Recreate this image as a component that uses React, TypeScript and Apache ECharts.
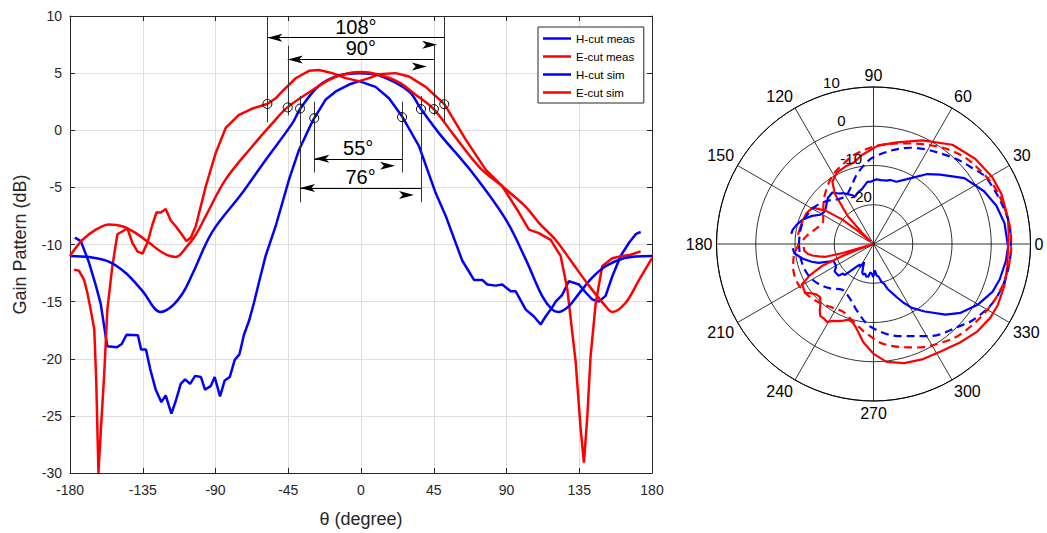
import React, { useEffect, useRef } from "react";
import * as echarts from "echarts";

const FONT = '"Liberation Sans", Arial, Helvetica, sans-serif';
const BLUE = "#0000ff";
const RED = "#ff0000";

const seriesNames = ["H-cut meas", "E-cut meas", "H-cut sim", "E-cut sim"];

// [theta (deg), gain (dB)]
const hCutMeas: number[][] = [
  [-177, -9.4], [-173.3, -9.7], [-168.2, -11.6], [-164, -13.6], [-161, -15.2], [-157, -18.9],
  [-151, -19.0], [-148, -18.7], [-145, -17.9], [-138, -17.95], [-136, -19.2], [-133, -19.2],
  [-130.4, -20.9], [-127, -22.7], [-123.5, -23.8], [-120.8, -23.2], [-117.3, -24.8], [-114.6, -23.7],
  [-111.5, -22.2], [-108.8, -21.8], [-105.7, -22.2], [-102.6, -21.5], [-99, -21.6], [-96.5, -22.7],
  [-93, -22.4], [-90.5, -21.6], [-87.2, -23.3], [-84.3, -21.9], [-81.2, -21.6], [-78.1, -20.1],
  [-75.2, -19.6], [-72.4, -17.9], [-69.3, -16.7], [-66.2, -15.1], [-63.1, -13.3], [-59, -11.0],
  [-52.8, -8.4], [-44.5, -4.3], [-38.3, -1.7], [-30, 0.8], [-21.8, 2.7], [-15.6, 3.4], [-7.4, 4.0],
  [-1.2, 4.3], [9, 3.8], [17.3, 2.8], [25.5, 1.2], [35.9, -1.4], [46.2, -5.5], [52.4, -7.5],
  [62.6, -11.4], [69.9, -13.1], [75, -13.1], [78.1, -13.5], [83.3, -13.6], [87.4, -13.5],
  [92.6, -14.1], [95.7, -14.1], [101.9, -15.7], [107, -16.3], [111.1, -17.0], [114.2, -16.3],
  [118.3, -15.5], [120.4, -15.0], [124.5, -14.4], [128.6, -13.2], [134.8, -13.5], [139, -14.2],
  [143, -14.8], [147.2, -15.0], [151.3, -14.5], [155.4, -12.8], [160.6, -11.0], [165.8, -9.85],
  [169.9, -9.1], [173, -8.9],
];

const eCutMeas: number[][] = [
  [-177.5, -12.2], [-174.4, -12.3], [-171.3, -13.1], [-169.3, -14.2], [-167.2, -15.7], [-165, -17.4],
  [-163.8, -21.8], [-162.4, -30], [-160.9, -26.2], [-158.9, -21.5], [-156.9, -15.7], [-153.8, -11.9],
  [-150.7, -9.1], [-144.5, -8.6], [-141.4, -9.85], [-138.3, -10.6], [-135.2, -10.8], [-132.1, -9.85],
  [-129, -8.25], [-126.5, -7.2], [-123.9, -7.2], [-120.8, -6.9], [-117.7, -7.9], [-114.6, -8.4],
  [-111.5, -9.0], [-108, -9.7], [-105.3, -9.4], [-102.2, -8.4], [-96, -4.9], [-89.9, -2.0],
  [-83.7, 0.2], [-75.5, 1.35], [-67.2, 1.9], [-58, 2.3], [-52.8, 2.8], [-48.7, 3.4], [-40.4, 4.55],
  [-32.2, 5.2], [-26, 5.28], [-17.7, 5.0], [-9.5, 4.56], [-1.2, 4.3], [5, 4.56], [11, 4.9],
  [21.4, 5.0], [29.7, 4.7], [40, 3.8], [51.5, 2.3], [64.7, -0.8], [77.1, -3.45], [87.4, -4.9],
  [97.7, -7.2], [103.9, -8.7], [110, -9.0], [117.3, -9.6], [123.5, -11.0], [127.6, -13.9],
  [132.8, -20.3], [135.9, -26.2], [137.9, -29.1], [140, -25], [142, -19.8], [145.2, -15.1],
  [149.2, -11.9], [155.4, -11.2], [161.6, -11.0], [166.8, -10.9], [173, -10.6],
];

const hCutSim: number[][] = [
  [-180, -11.0], [-168, -11.1], [-156, -11.5], [-145.5, -12.5], [-135, -14.1], [-124, -15.9],
  [-117, -15.4], [-110, -14.2], [-104, -12.5], [-92, -8.9], [-73.5, -5.5], [-59, -2.6],
  [-42.5, 0.6], [-37.5, 1.9], [-26, 3.9], [-13.6, 4.8], [-1, 5.0], [11, 4.8], [29.7, 3.4],
  [36.9, 1.9], [48.2, -0.25], [68.8, -3.7], [89.5, -7.8], [101.9, -11.3], [112, -14.5],
  [118.3, -15.7], [122.4, -15.9], [128.6, -15.4], [134.8, -14.3], [143, -12.9], [151.3, -11.9],
  [161.6, -11.25], [170, -11.05], [180, -11.0],
];

const eCutSim: number[][] = [
  [-180, -11.0], [-172.3, -9.6], [-164, -8.7], [-155.8, -8.25], [-147.6, -8.4], [-139.3, -9.0],
  [-131, -9.85], [-122.9, -10.7], [-114.6, -11.1], [-108.4, -10.3], [-102, -9.1], [-96, -7.5],
  [-83.7, -4.3], [-67.2, -1.4], [-54.9, 0.6], [-45.5, 2.0], [-30.1, 3.5], [-17.7, 4.55],
  [-5.4, 5.05], [0, 5.1], [10, 4.9], [23.5, 4.2], [33, 3.2], [44.7, 1.9], [56.5, -0.25],
  [73, -3.2], [87.4, -4.9], [101.9, -6.7], [110, -8.1], [120.4, -9.6], [130.7, -11.6],
  [141, -13.6], [151.3, -15.4], [155.4, -15.9], [163.7, -15.1], [172, -13.1], [180, -11.2],
];

// beamwidth annotations
const beamLabels = ["108°", "90°", "76°", "55°"];
const beamLeft = [-57.9, -45.3, -37.7, -28.9];
const beamRight = [51.5, 45.1, 37.1, 25.4];
const levelLeft = [2.3, 2.0, 1.9, 1.06];
const levelRight = [2.28, 1.85, 1.85, 1.15];
const arrowLevel = [8.1, 6.2, -5.05, -2.5];
const guideTop = [10, 7.4, 3.0, 2.5];
const guideBottom = [0.7, 1.3, -6.3, -3.7];

// polar radius tick labels
const radiusTicks = [-20, -10, 0, 10];
const radiusLabelAngle = 104.6;

export default function App() {
  const ref = useRef<HTMLDivElement>(null);

  useEffect(() => {
    if (!ref.current) return;
    const chart = echarts.init(ref.current, null, { renderer: "svg" });
    const all = [hCutMeas, eCutMeas, hCutSim, eCutSim];
    const colors = [BLUE, RED, BLUE, RED];
    const isSim = [false, false, true, true];

    const cartSeries = all.map((d, i) => ({
      name: seriesNames[i],
      type: "line",
      xAxisIndex: 0,
      yAxisIndex: 0,
      data: d,
      symbol: "none",
      showSymbol: false,
      smooth: isSim[i] ? 0.35 : false,
      lineStyle: { color: colors[i], width: 2.5 },
      itemStyle: { color: colors[i] },
      z: 3,
    }));

    const polarSeries = all.map((d, i) => ({
      name: seriesNames[i],
      type: "line",
      coordinateSystem: "polar",
      polarIndex: 0,
      data: d.map(([t, g]) => [g, t]),
      symbol: "none",
      showSymbol: false,
      smooth: isSim[i] ? 0.35 : false,
      clip: false,
      lineStyle: { color: colors[i], width: 2.2, type: isSim[i] ? [8, 5] : "solid" },
      itemStyle: { color: colors[i] },
      z: 3,
    }));

    const guideSeries = {
      type: "line",
      xAxisIndex: 0,
      yAxisIndex: 0,
      data: [],
      silent: true,
      markLine: {
        silent: true,
        animation: false,
        symbol: "none",
        label: { show: false },
        lineStyle: { color: "#333", width: 1, type: "solid" },
        emphasis: { disabled: true },
        data: beamLabels.flatMap((_, i) => [
          [{ coord: [beamLeft[i], guideTop[i]] }, { coord: [beamLeft[i], guideBottom[i]] }],
          [{ coord: [beamRight[i], guideTop[i]] }, { coord: [beamRight[i], guideBottom[i]] }],
        ]),
      },
      markPoint: {
        silent: true,
        animation: false,
        symbol: "circle",
        symbolSize: 9,
        label: { show: false },
        itemStyle: { color: "rgba(0,0,0,0)", borderColor: "#000", borderWidth: 1 },
        data: beamLabels.flatMap((_, i) => [
          { coord: [beamLeft[i], levelLeft[i]] },
          { coord: [beamRight[i], levelRight[i]] },
        ]),
      },
    };

    const arrowSeries = {
      type: "line",
      xAxisIndex: 0,
      yAxisIndex: 0,
      data: [],
      silent: true,
      markLine: {
        silent: true,
        animation: false,
        symbol: ["arrow", "arrow"],
        symbolSize: [6, 15],
        symbolOffset: [0, 7],
        lineStyle: { color: "#000", width: 1, type: "solid" },
        itemStyle: { color: "#000" },
        emphasis: { disabled: true },
        label: {
          show: true,
          position: "insideMiddleTop",
          formatter: "{b}",
          color: "#000",
          fontSize: 20,
          fontFamily: FONT,
          distance: 1,
        },
        data: beamLabels.map((lab, i) => [
          { name: lab, coord: [beamLeft[i], arrowLevel[i]] },
          { coord: [beamRight[i], arrowLevel[i]] },
        ]),
      },
    };

    const axisColor = "#262626";
    const frameAxis = {
      axisLine: { show: true, onZero: false, lineStyle: { color: axisColor, width: 1 } },
      axisTick: { show: true, inside: true, length: 5, lineStyle: { color: axisColor } },
    };

    const option: any = {
      animation: false,
      textStyle: { fontFamily: FONT },
      legend: {
        data: seriesNames,
        left: 538,
        top: 27,
        orient: "vertical",
        padding: [5, 9, 4, 5],
        itemGap: 5,
        itemWidth: 28,
        itemHeight: 2.5,
        icon: "rect",
        backgroundColor: "#fff",
        borderColor: axisColor,
        borderWidth: 1,
        borderRadius: 0,
        selectedMode: false,
        textStyle: { fontSize: 11.5, color: "#000", fontFamily: FONT, lineHeight: 13 },
      },
      grid: [{ left: 70, top: 16, width: 582, height: 458 }],
      xAxis: [
        {
          type: "value", gridIndex: 0, min: -180, max: 180, interval: 45, position: "bottom",
          ...frameAxis,
          axisLabel: { fontSize: 14, color: axisColor, fontFamily: FONT, margin: 10 },
          splitLine: { show: true, lineStyle: { color: "#dedede", width: 1 } },
          name: "θ (degree)", nameLocation: "middle", nameGap: 37,
          nameTextStyle: { fontSize: 18, color: axisColor, fontFamily: FONT },
        },
        {
          type: "value", gridIndex: 0, min: -180, max: 180, interval: 45, position: "top",
          ...frameAxis, axisLabel: { show: false }, splitLine: { show: false },
        },
      ],
      yAxis: [
        {
          type: "value", gridIndex: 0, min: -30, max: 10, interval: 5, position: "left",
          ...frameAxis,
          axisLabel: { fontSize: 14, color: axisColor, fontFamily: FONT, margin: 8 },
          splitLine: { show: true, lineStyle: { color: "#dedede", width: 1 } },
          name: "Gain Pattern (dB)", nameLocation: "middle", nameGap: 41,
          nameTextStyle: { fontSize: 18, color: axisColor, fontFamily: FONT },
        },
        {
          type: "value", gridIndex: 0, min: -30, max: 10, interval: 5, position: "right",
          ...frameAxis, axisLabel: { show: false }, splitLine: { show: false },
        },
      ],
      polar: [{ center: [873.5, 244], radius: 157 }],
      angleAxis: [
        {
          polarIndex: 0, type: "value", min: 0, max: 360, interval: 30, startAngle: 0, clockwise: false,
          axisLine: { show: true, lineStyle: { color: "#000", width: 1 } },
          axisTick: { show: false },
          axisLabel: { fontSize: 16, color: "#000", fontFamily: FONT, margin: 4 },
          splitLine: { show: true, lineStyle: { color: "#000", width: 0.8 } },
        },
      ],
      radiusAxis: [
        {
          polarIndex: 0, type: "value", min: -30, max: 10, interval: 10,
          axisLine: { show: false }, axisTick: { show: false }, axisLabel: { show: false },
          splitLine: { show: true, lineStyle: { color: "#000", width: 0.8 } },
        },
      ],
      series: [...cartSeries, guideSeries, arrowSeries, ...polarSeries],
    };

    chart.setOption(option);

    const polarIdx = cartSeries.length + 2;
    const p0 = chart.convertToPixel({ seriesIndex: polarIdx }, [-30, radiusLabelAngle]) as number[];
    const texts = radiusTicks.map((v) => {
      const p = chart.convertToPixel({ seriesIndex: polarIdx }, [v, radiusLabelAngle]) as number[];
      const dx = p[0] - p0[0];
      const dy = p[1] - p0[1];
      const len = Math.hypot(dx, dy) || 1;
      return {
        type: "text",
        x: p[0] + (dx / len) * 10,
        y: p[1] + (dy / len) * 10,
        z: 100,
        style: {
          text: String(v),
          fill: "#000",
          fontSize: 15,
          fontFamily: FONT,
          align: "center",
          verticalAlign: "middle",
        },
      };
    });
    chart.setOption({ graphic: texts });

    return () => chart.dispose();
  }, []);

  return (
    <div
      ref={ref}
      style={{ position: "absolute", left: 0, top: 0, width: 1047, height: 533, background: "#fff" }}
    />
  );
}
